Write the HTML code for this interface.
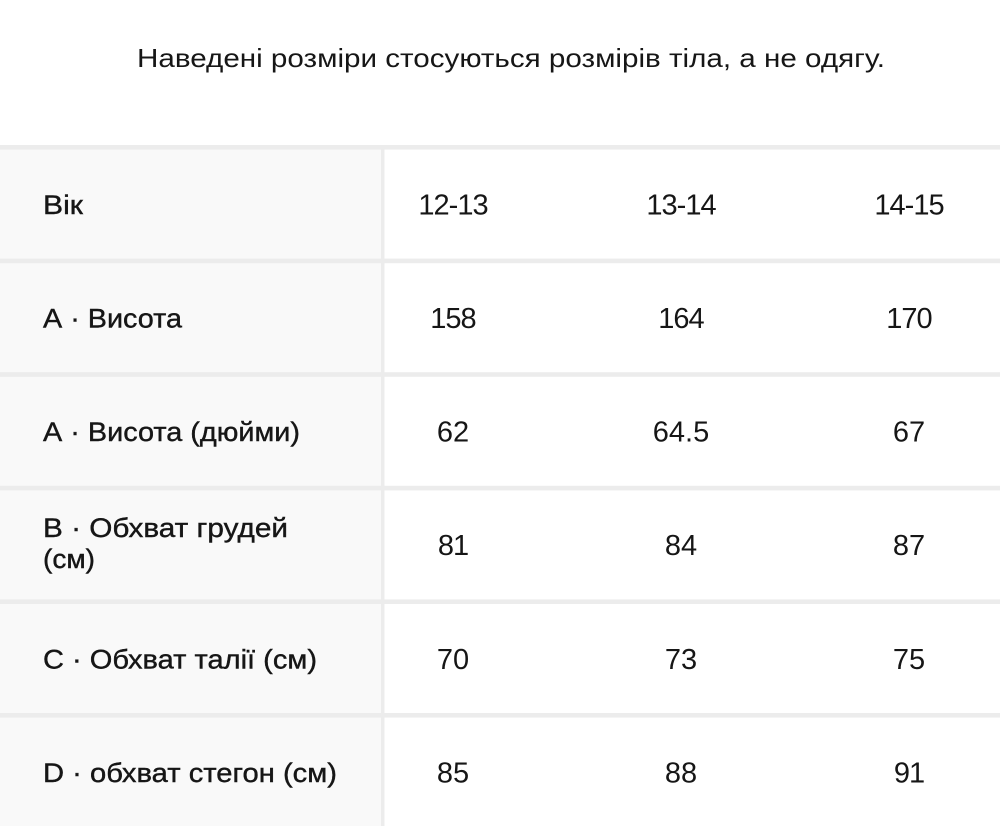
<!DOCTYPE html>
<html><head><meta charset="utf-8">
<style>
html,body{margin:0;padding:0;background:#fff;}
svg{display:block;}
text{font-family:"Liberation Sans","DejaVu Sans",sans-serif;fill:#161616;}
.l{font-size:27px;stroke:#161616;stroke-width:0.4px;}
.n{font-size:29px;text-anchor:middle;}
.o{letter-spacing:-1px;}
.t{font-size:26px;}
</style></head>
<body>
<svg width="1000" height="826" viewBox="0 0 1000 826" xmlns="http://www.w3.org/2000/svg">
<rect x="0" y="0" width="1000" height="826" fill="#ffffff"/>
<text class="t" x="137" y="67" textLength="748" lengthAdjust="spacingAndGlyphs">Наведені розміри стосуються розмірів тіла, а не одягу.</text>

<rect x="0" y="145" width="381" height="681" fill="#f9f9f9"/>
<rect x="381" y="145" width="3.5" height="681" fill="#ececec"/>
<rect x="0" y="145" width="1000" height="4.6" fill="#ececec"/>
<rect x="0" y="258.6" width="1000" height="4.6" fill="#ececec"/>
<rect x="0" y="372.2" width="1000" height="4.6" fill="#ececec"/>
<rect x="0" y="485.8" width="1000" height="4.6" fill="#ececec"/>
<rect x="0" y="599.4" width="1000" height="4.6" fill="#ececec"/>
<rect x="0" y="713" width="1000" height="4.6" fill="#ececec"/>

<!-- row 0 -->
<text class="l" x="43" y="214" textLength="40" lengthAdjust="spacingAndGlyphs">Вік</text>
<text class="n o" x="453" y="214.5">12-13</text>
<text class="n o" x="681" y="214.5">13-14</text>
<text class="n o" x="909" y="214.5">14-15</text>

<!-- row 1 -->
<text class="l" x="43" y="327.6" textLength="139" lengthAdjust="spacingAndGlyphs">А · Висота</text>
<text class="n o" x="453" y="328">158</text>
<text class="n o" x="681" y="328">164</text>
<text class="n o" x="909" y="328">170</text>

<!-- row 2 -->
<text class="l" x="43" y="441.2" textLength="257" lengthAdjust="spacingAndGlyphs">А · Висота (дюйми)</text>
<text class="n" x="453" y="441.6">62</text>
<text class="n" x="681" y="441.6">64.5</text>
<text class="n" x="909" y="441.6">67</text>

<!-- row 3 -->
<text class="l" x="43" y="537" textLength="245" lengthAdjust="spacingAndGlyphs">В · Обхват грудей</text>
<text class="l" x="43" y="568" textLength="52" lengthAdjust="spacingAndGlyphs">(см)</text>
<text class="n o" x="453" y="555.2">81</text>
<text class="n" x="681" y="555.2">84</text>
<text class="n" x="909" y="555.2">87</text>

<!-- row 4 -->
<text class="l" x="43" y="668.4" textLength="274" lengthAdjust="spacingAndGlyphs">С · Обхват талії (см)</text>
<text class="n" x="453" y="668.8">70</text>
<text class="n" x="681" y="668.8">73</text>
<text class="n" x="909" y="668.8">75</text>

<!-- row 5 -->
<text class="l" x="43" y="782" textLength="294" lengthAdjust="spacingAndGlyphs">D · обхват стегон (см)</text>
<text class="n" x="453" y="782.4">85</text>
<text class="n" x="681" y="782.4">88</text>
<text class="n o" x="909" y="782.4">91</text>
</svg>
</body></html>
